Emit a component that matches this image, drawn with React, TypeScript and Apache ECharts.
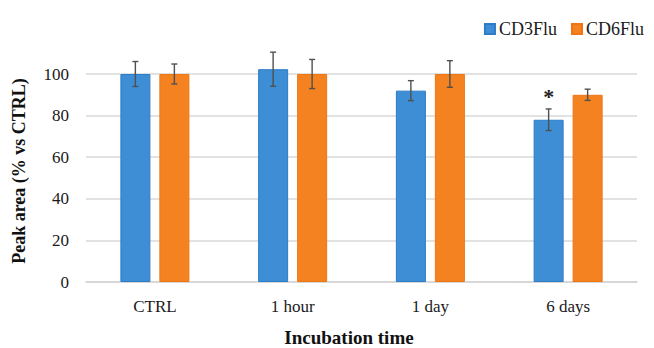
import React, { useEffect, useRef } from "react";
import * as echarts from "echarts";

const categories = ["CTRL", "1 hour", "1 day", "6 days"];
const seriesNames = ["CD3Flu", "CD6Flu"];
const cd3Values = [100, 102.3, 92, 78];
const cd3Errors = [6, 8.2, 4.8, 5.2];
const cd6Values = [100, 100, 100, 90];
const cd6Errors = [4.8, 7, 6.4, 2.7];
const cd3Significance = ["", "", "", "*"];
const cd6Significance = ["", "", "", ""];
const yTicks = [0, 20, 40, 60, 80, 100];
const xTitle = "Incubation time";
const yTitle = "Peak area (% vs CTRL)";

const BLUE = "#3e8ed5";
const ORANGE = "#f58220";
const FONT = "Liberation Serif";

function errorSeries(name: string, values: number[], errors: number[], marks: string[], offset: number) {
  return {
    type: "custom",
    name: name + "-err",
    clip: false,
    silent: true,
    z: 5,
    data: values.map((v, i) => [i, v, errors[i]]),
    renderItem: (params: any, api: any) => {
      const idx = api.value(0);
      const v = api.value(1);
      const e = api.value(2);
      const mark = marks[idx];
      const base = api.coord([idx, v]);
      const x = base[0] + offset;
      const hi = api.coord([idx, v + e])[1];
      const lo = api.coord([idx, v - e])[1];
      const cap = 3;
      const st = { stroke: "#505050", lineWidth: 1.4 };
      const children: any[] = [
        { type: "line", shape: { x1: x, y1: hi, x2: x, y2: lo }, style: st },
        { type: "line", shape: { x1: x - cap, y1: hi, x2: x + cap, y2: hi }, style: st },
        { type: "line", shape: { x1: x - cap, y1: lo, x2: x + cap, y2: lo }, style: st },
      ];
      if (mark) {
        children.push({
          type: "text",
          style: {
            text: mark,
            x: x,
            y: hi - 1,
            align: "center",
            verticalAlign: "bottom",
            fontFamily: FONT,
            fontSize: 22,
            fontWeight: "bold",
            fill: "#222222",
          },
        });
      }
      return { type: "group", children };
    },
  };
}

export default function App() {
  const ref = useRef<HTMLDivElement>(null);
  useEffect(() => {
    if (!ref.current) return;
    const chart = echarts.init(ref.current, null, { renderer: "svg" });
    const barWidth = 30;
    const gap = 9;
    const off = (barWidth + gap) / 2;
    chart.setOption({
      animation: false,
      backgroundColor: "#ffffff",
      textStyle: { fontFamily: FONT },
      legend: {
        data: seriesNames,
        right: 5,
        top: 15,
        itemWidth: 10,
        itemHeight: 10,
        itemGap: 14,
        icon: "rect",
        textStyle: { fontFamily: FONT, fontSize: 18, color: "#1a1a1a", padding: [0, 0, 0, -1] },
      },
      grid: { left: 86, right: 17, top: 74, bottom: 66, containLabel: false },
      xAxis: {
        type: "category",
        data: categories,
        axisLine: { lineStyle: { color: "#d4d4d4", width: 1.5 } },
        axisTick: { show: false },
        axisLabel: { fontFamily: FONT, fontSize: 17, color: "#1a1a1a", margin: 16 },
      },
      yAxis: {
        type: "value",
        min: 0,
        max: 100,
        interval: 20,
        axisLine: { show: false },
        axisTick: { show: false },
        axisLabel: {
          fontFamily: FONT,
          fontSize: 17,
          color: "#1a1a1a",
          margin: 17,
          formatter: (v: number) => (yTicks.includes(v) ? String(v) : ""),
        },
        splitLine: { lineStyle: { color: "#d9d9d9", width: 1.5 } },
      },
      graphic: [
        {
          type: "text",
          x: 349,
          y: 337,
          style: {
            text: xTitle,
            align: "center",
            verticalAlign: "middle",
            fontFamily: FONT,
            fontSize: 19,
            fontWeight: "bold",
            fill: "#111111",
          },
        },
        {
          type: "text",
          x: 19,
          y: 171,
          rotation: Math.PI / 2,
          style: {
            text: yTitle,
            align: "center",
            verticalAlign: "middle",
            fontFamily: FONT,
            fontSize: 18,
            fontWeight: "bold",
            fill: "#111111",
          },
        },
      ],
      series: [
        {
          type: "bar",
          name: seriesNames[0],
          data: cd3Values,
          barWidth,
          barGap: (gap / barWidth) * 100 + "%",
          clip: false,
          itemStyle: { color: BLUE, borderColor: "#2c7cc8", borderWidth: 1 },
        },
        {
          type: "bar",
          name: seriesNames[1],
          data: cd6Values,
          barWidth,
          clip: false,
          itemStyle: { color: ORANGE, borderColor: "#ee7512", borderWidth: 1 },
        },
        errorSeries(seriesNames[0], cd3Values, cd3Errors, cd3Significance, -off),
        errorSeries(seriesNames[1], cd6Values, cd6Errors, cd6Significance, off),
      ],
    });
    return () => chart.dispose();
  }, []);
  return <div ref={ref} style={{ width: 654, height: 348, position: "absolute", left: 0, top: 0 }} />;
}
